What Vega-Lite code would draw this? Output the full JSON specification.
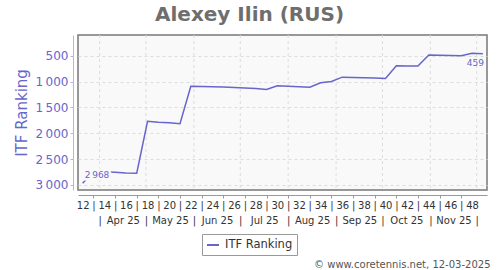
{
  "$schema": "https://vega.github.io/schema/vega-lite/v6.json",
  "width": 409,
  "height": 155,
  "autosize": {"type": "none"},
  "padding": {"left": 78, "top": 35, "right": 13, "bottom": 80},
  "background": "white",
  "title": {
    "text": "Alexey Ilin (RUS)",
    "font": "DejaVu Sans",
    "fontSize": 20,
    "fontWeight": "bold",
    "color": "#6e6e6e",
    "anchor": "middle",
    "frame": "group",
    "dx": -33,
    "dy": 19,
    "offset": 13,
    "baseline": "alphabetic"
  },
  "datasets": {
    "ranking": [
      {"date": "2025-03-21", "rank": 2968},
      {"date": "2025-03-28", "rank": 2745},
      {"date": "2025-04-04", "rank": 2745},
      {"date": "2025-04-11", "rank": 2755},
      {"date": "2025-04-18", "rank": 2770},
      {"date": "2025-04-25", "rank": 2775},
      {"date": "2025-05-02", "rank": 1767},
      {"date": "2025-05-09", "rank": 1785},
      {"date": "2025-05-16", "rank": 1798},
      {"date": "2025-05-23", "rank": 1817},
      {"date": "2025-05-30", "rank": 1087},
      {"date": "2025-06-06", "rank": 1093},
      {"date": "2025-06-13", "rank": 1098},
      {"date": "2025-06-20", "rank": 1103},
      {"date": "2025-06-27", "rank": 1112},
      {"date": "2025-07-04", "rank": 1121},
      {"date": "2025-07-11", "rank": 1131},
      {"date": "2025-07-18", "rank": 1150},
      {"date": "2025-07-25", "rank": 1079},
      {"date": "2025-08-01", "rank": 1090},
      {"date": "2025-08-08", "rank": 1098},
      {"date": "2025-08-15", "rank": 1106},
      {"date": "2025-08-22", "rank": 1021},
      {"date": "2025-08-29", "rank": 995},
      {"date": "2025-09-05", "rank": 912},
      {"date": "2025-09-12", "rank": 918},
      {"date": "2025-09-19", "rank": 925},
      {"date": "2025-09-26", "rank": 930},
      {"date": "2025-10-03", "rank": 937},
      {"date": "2025-10-10", "rank": 690},
      {"date": "2025-10-17", "rank": 694},
      {"date": "2025-10-24", "rank": 698},
      {"date": "2025-10-31", "rank": 484},
      {"date": "2025-11-07", "rank": 489},
      {"date": "2025-11-14", "rank": 493},
      {"date": "2025-11-21", "rank": 496},
      {"date": "2025-11-28", "rank": 450},
      {"date": "2025-12-05", "rank": 459}
    ],
    "months": [
      {"month": "2025-04-01"},
      {"month": "2025-05-01"},
      {"month": "2025-06-01"},
      {"month": "2025-07-01"},
      {"month": "2025-08-01"},
      {"month": "2025-09-01"},
      {"month": "2025-10-01"},
      {"month": "2025-11-01"},
      {"month": "2025-12-01"}
    ]
  },
  "layer": [
    {
      "data": {"name": "months"},
      "mark": {"type": "rule", "color": "#dcdcdc", "strokeDash": [3, 3], "strokeWidth": 1},
      "encoding": {
        "x": {
          "field": "month",
          "type": "temporal",
          "scale": {"type": "utc", "domain": [1742256000000, 1765123200000]},
          "axis": {
            "orient": "bottom",
            "offset": 23,
            "values": [1743465600000, 1744761600000, 1746057600000, 1747396800000, 1748736000000, 1750032000000, 1751328000000, 1752667200000, 1754006400000, 1755345600000, 1756684800000, 1757980800000, 1759276800000, 1760616000000, 1761955200000, 1763251200000, 1764547200000],
            "labelExpr": "utcdate(datum.value) == 1 ? '|' : utcFormat(datum.value, '%b %y')",
            "labelOverlap": false,
            "labelFlush": false,
            "labelFont": "DejaVu Sans",
            "labelFontSize": 10,
            "labelColor": "#333333",
            "labelPadding": 2,
            "ticks": false,
            "tickSize": 0,
            "domain": false,
            "grid": false,
            "title": "© www.coretennis.net, 12-03-2025",
            "titleFont": "DejaVu Sans",
            "titleFontSize": 10,
            "titleFontWeight": "normal",
            "titleColor": "#555555",
            "titleAlign": "right",
            "titleBaseline": "alphabetic",
            "titleX": 412,
            "titleY": 54
          }
        }
      }
    },
    {
      "data": {"name": "ranking"},
      "mark": {"type": "line", "strokeWidth": 1.5, "interpolate": "linear"},
      "encoding": {
        "x": {
          "field": "date",
          "type": "temporal",
          "scale": {"type": "utc", "domain": [1742256000000, 1765123200000]},
          "axis": {
            "orient": "bottom",
            "offset": 5,
            "values": [1742515200000, 1743120000000, 1743724800000, 1744329600000, 1744934400000, 1745539200000, 1746144000000, 1746748800000, 1747353600000, 1747958400000, 1748563200000, 1749168000000, 1749772800000, 1750377600000, 1750982400000, 1751587200000, 1752192000000, 1752796800000, 1753401600000, 1754006400000, 1754611200000, 1755216000000, 1755820800000, 1756425600000, 1757030400000, 1757635200000, 1758240000000, 1758844800000, 1759449600000, 1760054400000, 1760659200000, 1761264000000, 1761868800000, 1762473600000, 1763078400000, 1763683200000, 1764288000000],
            "labelExpr": "toNumber(utcFormat(datum.value, '%V')) % 2 == 0 ? utcFormat(datum.value, '%V') : '|'",
            "labelOverlap": false,
            "labelFlush": false,
            "labelFont": "DejaVu Sans",
            "labelFontSize": 10,
            "labelColor": "#333333",
            "labelPadding": 2,
            "tickSize": 3,
            "tickColor": "#999999",
            "tickOpacity": {"condition": {"test": "toNumber(utcFormat(datum.value, '%V')) % 2 == 1", "value": 1}, "value": 0},
            "domainColor": "#999999",
            "domainWidth": 1,
            "grid": false,
            "title": null
          }
        },
        "y": {
          "field": "rank",
          "type": "quantitative",
          "scale": {"domain": [95, 3100], "reverse": true, "nice": false, "zero": false},
          "axis": {
            "orient": "left",
            "offset": 5,
            "values": [500, 1000, 1500, 2000, 2500, 3000],
            "format": ",d",
            "labelOverlap": false,
            "labelFont": "DejaVu Sans",
            "labelFontSize": 12,
            "labelColor": "#6666cc",
            "labelPadding": 2,
            "tickSize": 3,
            "tickColor": "#b4b4e6",
            "domainColor": "#b4b4e6",
            "grid": true,
            "gridDash": [3, 3],
            "gridColor": "#dcdcdc",
            "title": "ITF Ranking",
            "titleFont": "DejaVu Sans",
            "titleFontSize": 15,
            "titleFontWeight": "normal",
            "titleColor": "#6666cc",
            "titleBaseline": "middle",
            "titleX": -52,
            "titleY": 77.5
          }
        },
        "color": {
          "datum": "ITF Ranking",
          "type": "nominal",
          "scale": {"range": ["#6666cc"]},
          "legend": {
            "orient": "none",
            "legendX": 124,
            "legendY": 199,
            "title": null,
            "symbolType": "stroke",
            "symbolSize": 144,
            "symbolStrokeWidth": 2,
            "labelFont": "DejaVu Sans",
            "labelFontSize": 11.5,
            "labelColor": "#333333",
            "labelOffset": 5,
            "padding": 4,
            "strokeColor": "#999999",
            "fillColor": "white"
          }
        }
      }
    },
    {
      "data": {"name": "ranking"},
      "transform": [{"filter": "datum.rank == 2968"}],
      "mark": {"type": "text", "align": "left", "baseline": "alphabetic", "dx": 2, "dy": -5, "font": "DejaVu Sans", "fontSize": 9, "stroke": "#f9f9f9", "strokeWidth": 5, "fill": "#f9f9f9"},
      "encoding": {
        "x": {"field": "date", "type": "temporal", "scale": {"type": "utc"}, "axis": null},
        "y": {"field": "rank", "type": "quantitative", "axis": null},
        "text": {"field": "rank", "type": "quantitative", "format": ",d"}
      }
    },
    {
      "data": {"name": "ranking"},
      "transform": [{"filter": "datum.rank == 2968"}],
      "mark": {"type": "text", "align": "left", "baseline": "alphabetic", "dx": 2, "dy": -5, "font": "DejaVu Sans", "fontSize": 9, "color": "#6666cc"},
      "encoding": {
        "x": {"field": "date", "type": "temporal", "scale": {"type": "utc"}, "axis": null},
        "y": {"field": "rank", "type": "quantitative", "axis": null},
        "text": {"field": "rank", "type": "quantitative", "format": ",d"}
      }
    },
    {
      "data": {"name": "ranking"},
      "transform": [{"filter": "datum.rank == 459"}],
      "mark": {"type": "text", "align": "right", "baseline": "alphabetic", "dx": 1, "dy": 12, "font": "DejaVu Sans", "fontSize": 9, "color": "#6666cc"},
      "encoding": {
        "x": {"field": "date", "type": "temporal", "scale": {"type": "utc"}, "axis": null},
        "y": {"field": "rank", "type": "quantitative", "axis": null},
        "text": {"field": "rank", "type": "quantitative", "format": ",d"}
      }
    }
  ],
  "resolve": {"axis": {"x": "independent", "y": "independent"}},
  "config": {
    "locale": {"number": {"decimal": ".", "thousands": "\u2009", "grouping": [3], "currency": ["", ""]}},
    "font": "DejaVu Sans",
    "view": {"stroke": "#777777", "strokeWidth": 1.5, "fill": "#f9f9f9"}
  }
}
